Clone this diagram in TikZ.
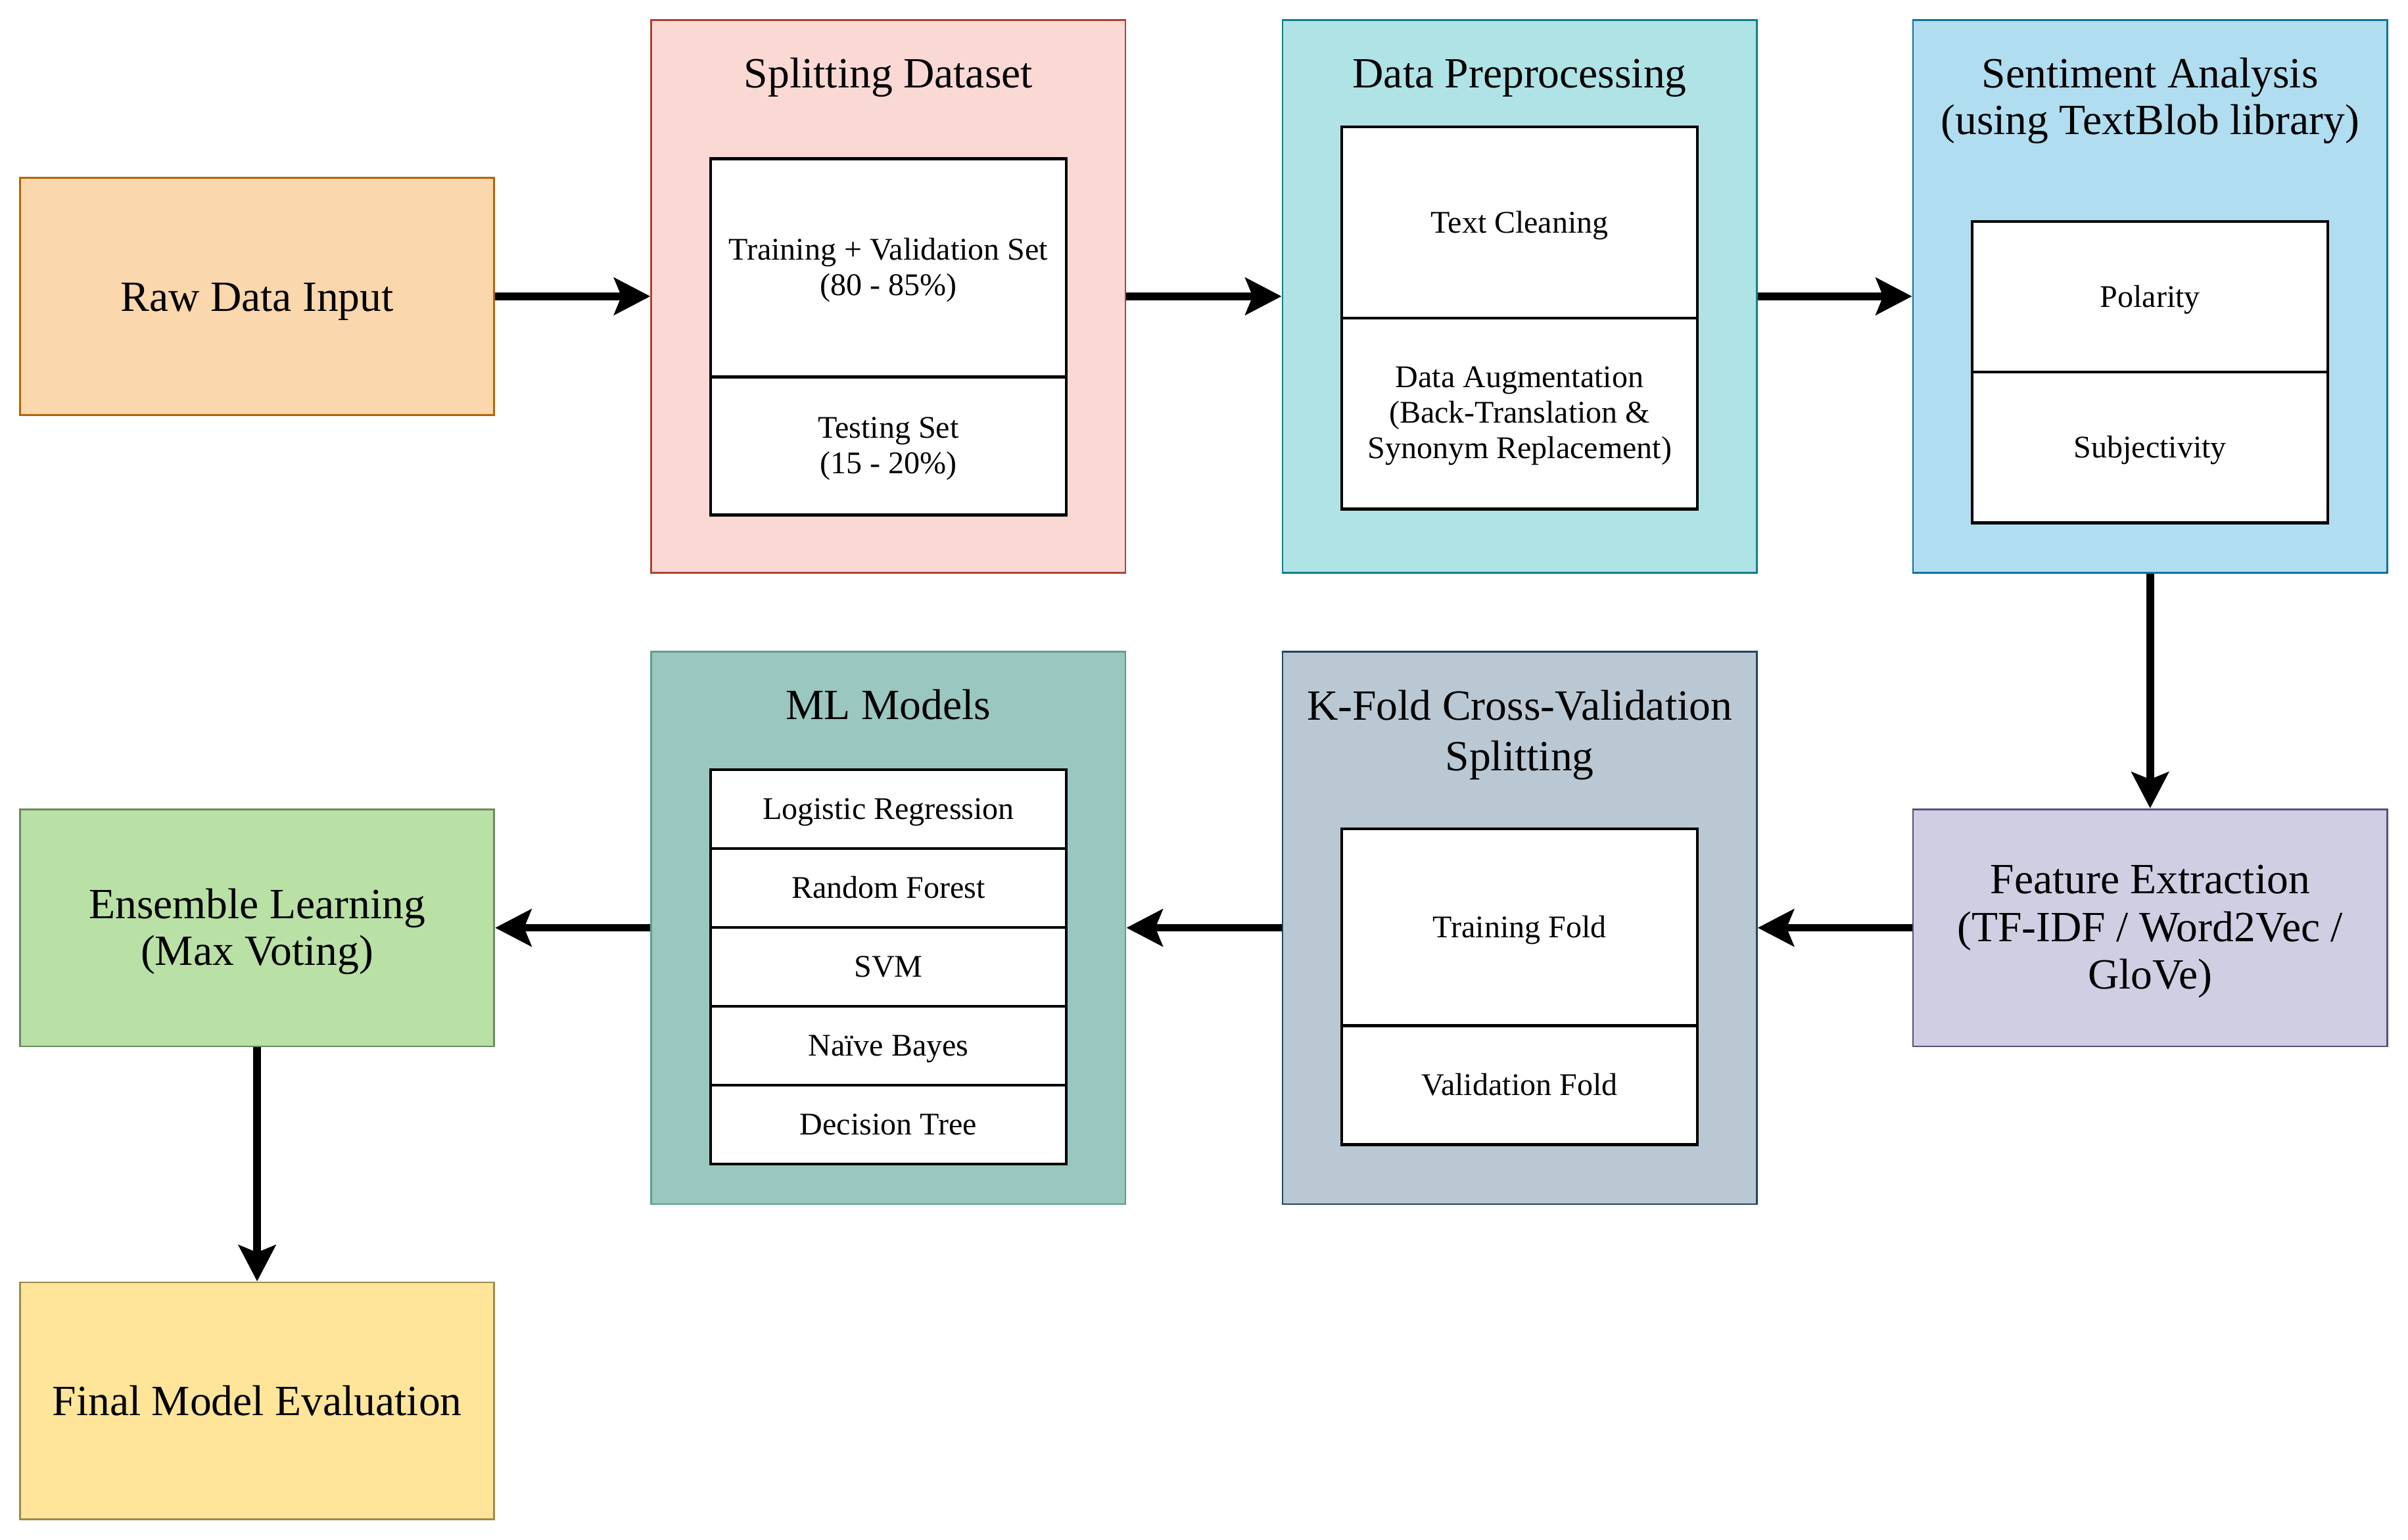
\documentclass[tikz,border=0pt]{standalone}
\usepackage{fontspec}
\setmainfont{Liberation Serif}
\usetikzlibrary{arrows.meta}
\definecolor{rawF}{HTML}{FAD7AC}\definecolor{rawD}{HTML}{B46504}
\definecolor{splF}{HTML}{FAD9D5}\definecolor{splD}{HTML}{AE4132}
\definecolor{preF}{HTML}{B0E3E6}\definecolor{preD}{HTML}{0E8088}
\definecolor{senF}{HTML}{B1DDF0}\definecolor{senD}{HTML}{10739E}
\definecolor{feaF}{HTML}{D0CEE2}\definecolor{feaD}{HTML}{56517E}
\definecolor{kfoF}{HTML}{BAC8D3}\definecolor{kfoD}{HTML}{23445D}
\definecolor{mlmF}{HTML}{9AC7BF}\definecolor{mlmD}{HTML}{5E9E93}
\definecolor{ensF}{HTML}{B9E0A5}\definecolor{ensD}{HTML}{6D8A5E}
\definecolor{finF}{HTML}{FFE599}\definecolor{finD}{HTML}{9E8A4A}
\newcommand{\bigstrut}{\rule{0pt}{24.5pt}}
\newcommand{\smallstrut}{\rule{0pt}{17pt}}
\begin{document}
\begin{tikzpicture}[x=1pt,y=-1pt,
  outerbox/.style={draw, line width=1.2pt, minimum width=308pt, minimum height=359pt, inner sep=0pt},
  smallbox/.style={draw, line width=1.2pt, minimum width=308pt, minimum height=154pt, inner sep=0pt,
     font=\fontsize{28}{30.5}\selectfont, align=center},
  oneline/.style={text height=19pt, text depth=0pt},
  innerbox/.style={draw=black, fill=white, line width=1.9pt, minimum width=231pt, inner sep=0pt,
     font=\fontsize{20.5}{23}\selectfont, align=center},
  innerone/.style={text height=13.4pt, text depth=0pt},
  titletext/.style={font=\fontsize{28}{30.1}\selectfont, align=center, inner sep=0pt},
  flow/.style={line width=5pt, -{Stealth[length=23.5pt,width=24pt,inset=4.7pt]}}]
\fill[white] (0,0) rectangle (1564,1000);
\useasboundingbox (0,0) rectangle (1564,1000);

% top row
\node[smallbox, oneline, fill=rawF, draw=rawD] (raw) at (167,192.5) {Raw Data Input};

\node[outerbox, fill=splF, draw=splD] (split) at (577,192.5) {};
\node[titletext, anchor=base] (splitT) at (577,56.9) {Splitting Dataset};
\node[innerbox, minimum height=141.6pt] (trval) at (577,174) {\smallstrut Training + Validation Set\\(80 - 85\%)};
\node[innerbox, minimum height=89.7pt] (test) at (577,289.65) {\smallstrut Testing Set\\(15 - 20\%)};

\node[outerbox, fill=preF, draw=preD] (prep) at (987,192.5) {};
\node[titletext, anchor=base] (prepT) at (987,56.9) {Data Preprocessing};
\node[innerbox, innerone, minimum height=124.2pt] (clean) at (987,144.5) {Text Cleaning};
\node[innerbox, minimum height=124pt] (aug) at (987,268.6) {\smallstrut Data Augmentation\\(Back-Translation \&\\Synonym Replacement)};

\node[outerbox, fill=senF, draw=senD] (sent) at (1396.5,192.5) {};
\node[titletext] (sentT) at (1396.5,65.45) {Sentiment Analysis\\(using TextBlob library)};
\node[innerbox, innerone, minimum height=97.8pt] (pol) at (1396.5,192.8) {Polarity};
\node[innerbox, innerone, minimum height=98pt] (subj) at (1396.5,290.7) {Subjectivity};

% bottom row
\node[smallbox, font=\fontsize{28}{31}\selectfont, fill=feaF, draw=feaD] (feat) at (1396.5,602.7)
  {\rule{0pt}{23.5pt}Feature Extraction\\(TF-IDF / Word2Vec /\\GloVe)};

\node[outerbox, fill=kfoF, draw=kfoD] (kfold) at (987,602.7) {};
\node[titletext, font=\fontsize{28}{32.7}\selectfont] (kfoldT) at (987,477.55) {K-Fold Cross-Validation\\Splitting};
\node[innerbox, innerone, minimum height=127.8pt] (trf) at (987,602.4) {Training Fold};
\node[innerbox, innerone, minimum height=77.3pt] (vaf) at (987,704.95) {Validation Fold};

\node[outerbox, fill=mlmF, draw=mlmD] (ml) at (577,602.7) {};
\node[titletext, anchor=base] (mlT) at (577,467.5) {ML Models};
\node[innerbox, innerone, minimum height=51.2pt] (m1) at (577,525.7) {Logistic Regression};
\node[innerbox, innerone, minimum height=51.2pt] (m2) at (577,576.9) {Random Forest};
\node[innerbox, innerone, minimum height=51.2pt] (m3) at (577,628.1) {SVM};
\node[innerbox, innerone, minimum height=51.2pt] (m4) at (577,679.3) {Naïve Bayes};
\node[innerbox, innerone, minimum height=51.2pt] (m5) at (577,730.5) {Decision Tree};

\node[smallbox, font=\fontsize{28}{30.3}\selectfont, fill=ensF, draw=ensD] (ens) at (167,602.7)
  {\bigstrut Ensemble Learning\\(Max Voting)};
\node[smallbox, oneline, fill=finF, draw=finD] (final) at (167,910) {Final Model Evaluation};

% connectors
\draw[flow] (raw.east) -- (split.west);
\draw[flow] (split.east) -- (prep.west);
\draw[flow] (prep.east) -- (sent.west);
\draw[flow] (sent.south) -- (feat.north);
\draw[flow] (feat.west) -- (kfold.east);
\draw[flow] (kfold.west) -- (ml.east);
\draw[flow] (ml.west) -- (ens.east);
\draw[flow] (ens.south) -- (final.north);
\end{tikzpicture}
\end{document}
